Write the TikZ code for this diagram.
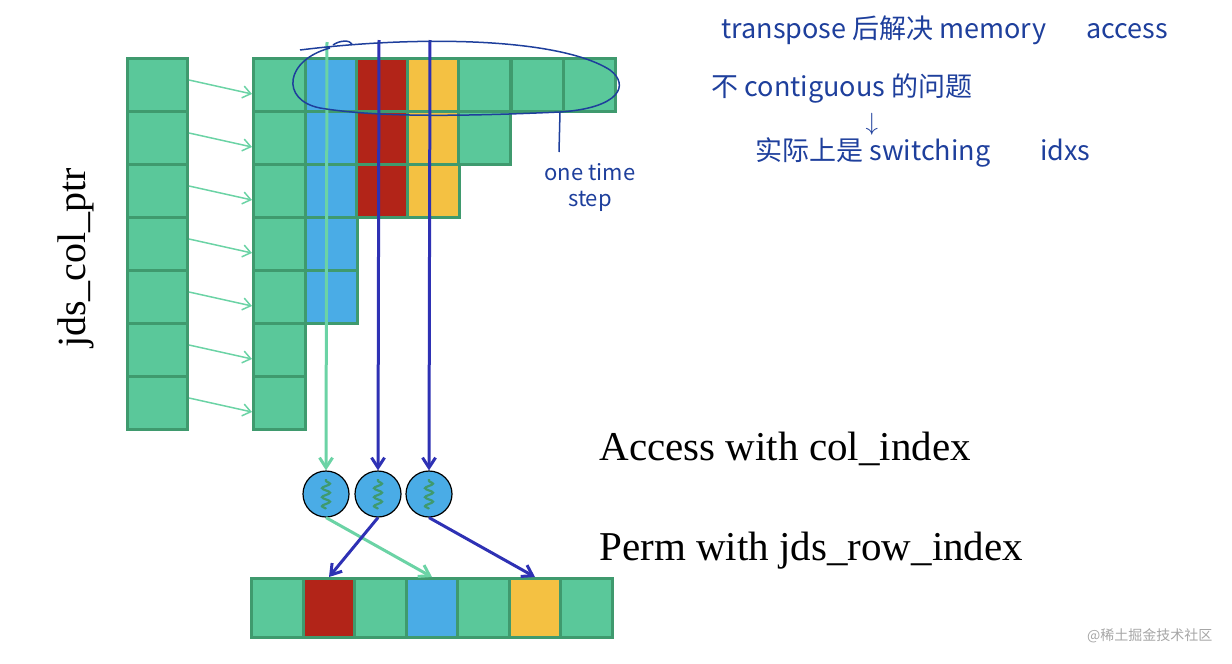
\documentclass[tikz,border=0pt]{standalone}
\usepackage{fontspec}
\setmainfont{Liberation Serif}
\newfontfamily\cjk{Noto Sans CJK SC}
\usetikzlibrary{decorations.pathmorphing,arrows.meta}
\definecolor{cg}{HTML}{5AC89A}
\definecolor{cgb}{HTML}{3F9A6E}
\definecolor{cb}{HTML}{4AACE6}
\definecolor{cr}{HTML}{B22418}
\definecolor{cy}{HTML}{F4C142}
\definecolor{lb}{HTML}{2E31B4}
\definecolor{lg}{HTML}{6BD3A5}
\definecolor{ink}{HTML}{1E3F9C}
\tikzset{
 cell/.style={draw=cgb,line width=3pt,inner sep=0,minimum width=52pt,minimum height=53pt,anchor=north west},
 garr/.style={lg,line width=1.5pt,-{Straight Barb[length=8pt,width=12pt]}},
 bigarr/.style={line width=3pt,-{Straight Barb[length=10pt,width=13pt]}},
 unit/.style={circle,draw=black,line width=1.2pt,fill=cb,minimum width=46pt,inner sep=0},
 hand/.style={ink,font=\cjk\fontsize{27}{30}\selectfont,anchor=west},
}
\begin{document}
\begin{tikzpicture}[x=1pt,y=-1pt]
\useasboundingbox (0,0) rectangle (1232,664);
% left column
\foreach \i in {0,...,6}{
  \node[cell,fill=cg,minimum width=60pt] (p\i) at (126,57+53*\i) {};
}
% matrix
\def\cols{{252,304,355,406,457,510,562}}
\foreach \r/\n in {0/7,1/5,2/4,3/2,4/2,5/1,6/1}{
  \foreach \c in {1,...,\n}{
    \pgfmathtruncatemacro{\cc}{\c-1}
    \pgfmathsetmacro{\xx}{\cols[\cc]}
    \ifcase\cc \def\col{cg}\or\def\col{cb}\or\def\col{cr}\or\def\col{cy}\else\def\col{cg}\fi
    \node[cell,fill=\col] (m\r-\cc) at (\xx,57+53*\r) {};
  }
}
\foreach \i in {0,...,6}{
  \draw[garr] ([yshift=5pt]p\i.east) -- ([yshift=-9pt]m\i-0.west);
}
% units
\node[unit] (u1) at (326,494) {};
\node[unit] (u2) at (378,494) {};
\node[unit] (u3) at (429,494) {};
\foreach \u in {u1,u2,u3}{
  \draw[cgb,line width=2.2pt,decorate,decoration={snake,amplitude=4pt,segment length=9pt}] ([yshift=-15pt]\u.center) -- ([yshift=15pt]\u.center);
}
\coordinate (t1) at (327,42);
\coordinate (t2) at (379,40);
\coordinate (t3) at (430,40);
\draw[bigarr,lg] (t1) -- (u1.north);
\draw[bigarr,lb] (t2) -- (u2.north);
\draw[bigarr,lb] (t3) -- (u3.north);
% bottom bar
\foreach \k/\col in {0/cg,1/cr,2/cg,3/cb,4/cg,5/cy,6/cg}{
  \node[cell,fill=\col,minimum height=59pt] (o\k) at (250+51.5*\k,577) {};
}
\draw[bigarr,lg] (u1.south) -- (o3.north);
\draw[bigarr,lb] (u2.south) -- (o1.north);
\draw[bigarr,lb] (u3.south) -- (o5.north);
% labels
\node[anchor=base west,font=\fontsize{41}{44}\selectfont] (acc) at (596,460) {Access with col\_index};
\node[anchor=base west,font=\fontsize{41}{44}\selectfont] (perm) at (596,560) {Perm with jds\_row\_index};
\node[rotate=90,font=\fontsize{40}{44}\selectfont] (ptr) at (76,258) {jds\_col\_ptr};
% annotation
\draw[ink,line width=1.5pt] (300,50) .. controls (420,35) and (560,38) .. (610,70)
  .. controls (630,85) and (620,108) .. (560,112)
  .. controls (470,116) and (380,118) .. (320,108)
  .. controls (280,100) and (285,60) .. (330,48);
\draw[ink,line width=1.5pt] (333,45) .. controls (340,40) and (350,40) .. (352,44);
\coordinate (s1) at (560,112);
\coordinate (s2) at (559,152);
\draw[ink,line width=1.5pt] (s1) -- (s2);
\node[ink,font=\cjk\fontsize{22}{26}\selectfont,align=center] (ots) at (590,187) {one time\\step};
\node[hand] (h1) at (718,30) {transpose 后解决 memory\hspace{40pt}access};
\node[hand] (h2) at (708,88) {不 contiguous 的问题};
\node[hand] (h3) at (862,124) {$\downarrow$};
\node[hand] (h4) at (752,152) {实际上是 switching\hspace{50pt}idxs};
\node[anchor=east,gray!70,font=\cjk\fontsize{14}{16}\selectfont] (wm) at (1216,636) {@稀土掘金技术社区};
\end{tikzpicture}
\end{document}
